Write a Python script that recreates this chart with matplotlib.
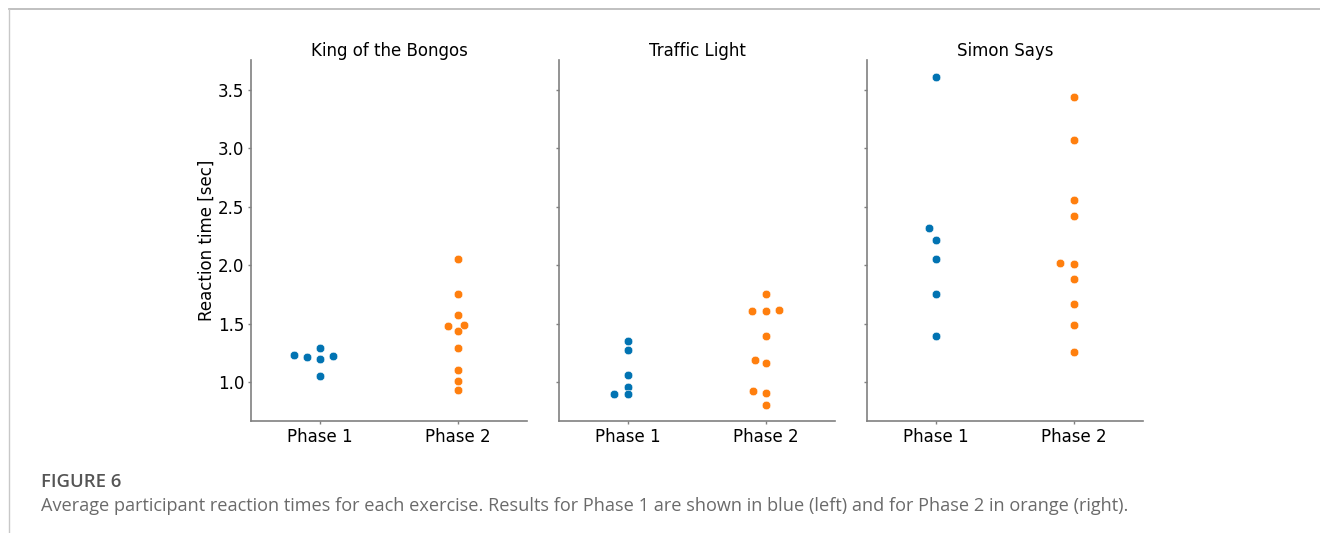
import matplotlib
matplotlib.use("Agg")
import matplotlib.pyplot as plt
import numpy as np
from matplotlib.lines import Line2D

plt.rcParams["font.family"] = "sans-serif"
plt.rcParams["font.sans-serif"] = ["DejaVu Sans"]

# Average reaction times (seconds) per participant
exercises = ["King of the Bongos", "Traffic Light", "Simon Says"]
phases = ["Phase 1", "Phase 2"]

bongos_phase1 = [1.23, 1.21, 1.29, 1.20, 1.22, 1.05]
bongos_phase2 = [2.05, 1.75, 1.57, 1.48, 1.49, 1.44, 1.29, 1.10, 1.01, 0.93]

traffic_phase1 = [1.35, 1.27, 1.06, 0.96, 0.90, 0.90]
traffic_phase2 = [1.75, 1.61, 1.61, 1.62, 1.39, 1.19, 1.16, 0.92, 0.91, 0.80]

simon_phase1 = [3.61, 2.32, 2.22, 2.05, 1.75, 1.39]
simon_phase2 = [3.44, 3.07, 2.56, 2.42, 2.02, 2.01, 1.88, 1.67, 1.49, 1.26]

series = {
    "King of the Bongos": (bongos_phase1, bongos_phase2),
    "Traffic Light": (traffic_phase1, traffic_phase2),
    "Simon Says": (simon_phase1, simon_phase2),
}

phase_colors = ["#0173B2", "#FF7F0E"]
spine_grey = "#808080"


def beeswarm(values, y_gap, x_step):
    """Offsets for a swarm layout: points sorted ascending, each placed at the
    smallest offset that keeps it at least one unit from every placed point,
    with y measured in y_gap units and x in x_step units."""
    vals = np.asarray(values, dtype=float)
    order = np.argsort(vals, kind="stable")
    placed = []  # (x, y) in normalised units
    offsets = np.zeros(len(vals))
    for idx in order:
        y = vals[idx] / y_gap
        near = [(px, py) for px, py in placed if abs(py - y) < 1]
        cands = [0.0]
        for px, py in near:
            dx = np.sqrt(1 - (py - y) ** 2)
            cands += [px - dx, px + dx]
        cands = sorted(cands, key=lambda c: round(abs(c), 9))
        for c in cands:
            if all((c - px) ** 2 + (y - py) ** 2 >= 1 - 1e-9 for px, py in near):
                break
        placed.append((c, y))
        offsets[idx] = c * x_step
    return offsets


W, H, DPI = 1320, 533, 100
fig = plt.figure(figsize=(W / DPI, H / DPI), dpi=DPI)

# page frame lines (top and left)
fig.add_artist(Line2D([9 / W, 1.0], [1 - 9 / H, 1 - 9 / H], transform=fig.transFigure,
                      color="#b5b5b5", lw=1.2))
fig.add_artist(Line2D([9 / W, 9 / W], [0, 1 - 9 / H], transform=fig.transFigure,
                      color="#c8c8c8", lw=1.0))

ax_lefts = [251, 559, 867]
ax_w, ax_top, ax_bottom = 276, 60, 421
axes = []
for i, name in enumerate(exercises):
    ax = fig.add_axes([ax_lefts[i] / W, (H - ax_bottom) / H, ax_w / W, (ax_bottom - ax_top) / H],
                      sharey=axes[0] if axes else None)
    axes.append(ax)
    groups = series[name]
    all_vals = np.concatenate([np.asarray(g, float) for g in groups])
    y_gap = 0.05 * (all_vals.max() - all_vals.min())
    for k, vals in enumerate(groups):
        xs = k + beeswarm(vals, y_gap, 0.0985)
        ax.scatter(xs, vals, s=38, color=phase_colors[k], edgecolor="white",
                   linewidth=0.4, zorder=3)
    ax.set_xticks(range(len(phases)))
    ax.set_xticklabels(phases)
    ax.set_xlim(-0.5, 1.5)
    ax.set_ylim(0.666, 3.757)
    ax.set_title(name, fontsize=12, pad=3)
    if i == 0:
        ax.set_ylabel("Reaction time [sec]", fontsize=12, labelpad=1.5)
    for s in ("top", "right"):
        ax.spines[s].set_visible(False)
    for s in ("left", "bottom"):
        ax.spines[s].set_color(spine_grey)
        ax.spines[s].set_linewidth(1.2)
    ax.tick_params(colors=spine_grey, labelcolor="black", labelsize=12,
                   length=2.5, width=1, pad=2.5)
    ax.set_yticks([1.0, 1.5, 2.0, 2.5, 3.0, 3.5])
    if i > 0:
        ax.tick_params(axis="y", labelleft=False)

fig.text(41 / W, 1 - 482 / H, "FIGURE 6", fontsize=13.3, color="#555555",
         family="Open Sans", fontweight="semibold", va="center", ha="left")
fig.text(41 / W, 1 - 506 / H,
         "Average participant reaction times for each exercise. Results for Phase 1 are shown "
         "in blue (left) and for Phase 2 in orange (right).",
         fontsize=13.05, color="#6a6a6a", family="Open Sans", va="center", ha="left")

fig.savefig("out.png", dpi=DPI, facecolor="white")
